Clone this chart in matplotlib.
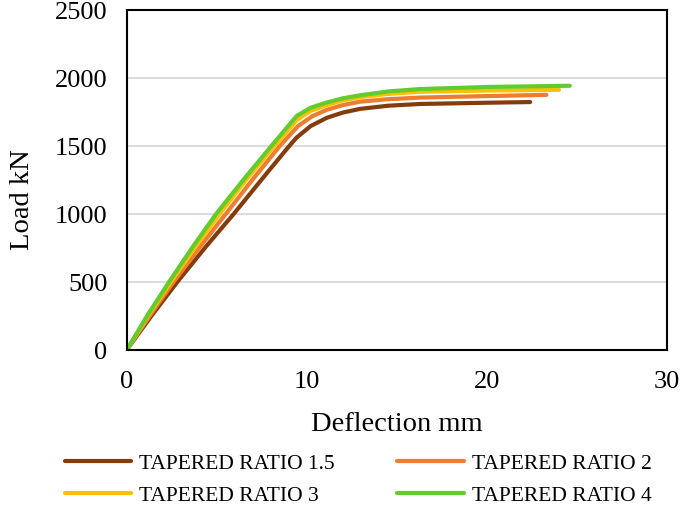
import matplotlib
matplotlib.use("Agg")
import matplotlib.pyplot as plt

plt.rcParams['font.family'] = ['Liberation Serif', 'DejaVu Serif']

# deflection (mm) and load (kN) per tapered ratio
x_r15 = [0, 1.4, 2.81, 4.4, 5.94, 7.5, 8.96, 9.42, 10.2, 11.1, 12.0, 12.96, 14.5, 16.3, 20, 22.4]
y_r15 = [0, 255, 500, 760, 1000, 1255, 1490, 1560, 1645, 1706, 1745, 1772, 1795, 1808, 1817, 1822]
x_r2 = [0, 1.3, 2.6, 4.05, 5.5, 7.0, 8.5, 9.5, 10.3, 11.1, 12.0, 12.96, 14.5, 16.3, 20, 23.3]
y_r2 = [0, 255, 500, 755, 1000, 1255, 1500, 1645, 1718, 1765, 1800, 1825, 1843, 1855, 1866, 1875]
x_r3 = [0, 1.2, 2.45, 3.8, 5.15, 6.65, 8.2, 9.43, 10.2, 11.1, 12.0, 12.96, 14.5, 16.3, 20, 24.0]
y_r3 = [0, 255, 500, 755, 1000, 1255, 1500, 1690, 1757, 1800, 1835, 1858, 1882, 1898, 1907, 1912]
x_r4 = [0, 1.15, 2.35, 3.65, 4.96, 6.5, 8.03, 9.43, 10.2, 11.1, 12.0, 12.96, 14.5, 16.3, 20, 24.6]
y_r4 = [0, 255, 500, 755, 1000, 1255, 1500, 1720, 1780, 1819, 1850, 1872, 1900, 1918, 1933, 1942]

labels = ["TAPERED RATIO 1.5", "TAPERED RATIO 2", "TAPERED RATIO 3", "TAPERED RATIO 4"]
colors = ["#843C0C", "#ED7D31", "#FFC000", "#62CC2E"]

fig = plt.figure(figsize=(6.85, 5.06), dpi=100)
ax = fig.add_axes([0.1854, 0.3073, 0.7883, 0.6710])

lines = []
for xs, ys, lab, c in zip([x_r15, x_r2, x_r3, x_r4], [y_r15, y_r2, y_r3, y_r4], labels, colors):
    ln, = ax.plot(xs, ys, color=c, lw=3, label=lab, solid_capstyle='round',
                  solid_joinstyle='round')
    lines.append(ln)

ax.set_xlim(0, 30)
ax.set_ylim(0, 2500)
ax.set_xticks([0, 10, 20, 30])
ax.set_yticks([0, 500, 1000, 1500, 2000, 2500])
ax.grid(axis='y', color='#D9D9D9', lw=1.3)
ax.set_axisbelow(True)
ax.tick_params(length=0, labelsize=19)
ax.tick_params(axis='x', pad=15)
ax.tick_params(axis='y', pad=14)
for s in ax.spines.values():
    s.set_color('black')
    s.set_linewidth(1.5)
ax.set_xlabel("Deflection mm", fontsize=20.5)
ax.set_ylabel("Load kN", fontsize=20.5)
ax.xaxis.set_label_coords(0.5, -0.18)
ax.yaxis.set_label_coords(-0.17, 0.445)

order = [0, 2, 1, 3]
fig.legend([lines[i] for i in order], [labels[i] for i in order], ncol=2,
           loc='center', bbox_to_anchor=(0.523, 0.051), frameon=False,
           fontsize=15.5, handlelength=3.1, handletextpad=0.37, columnspacing=2.9,
           labelspacing=0.55, borderpad=0, borderaxespad=0)

fig.savefig("out.png", dpi=100)
